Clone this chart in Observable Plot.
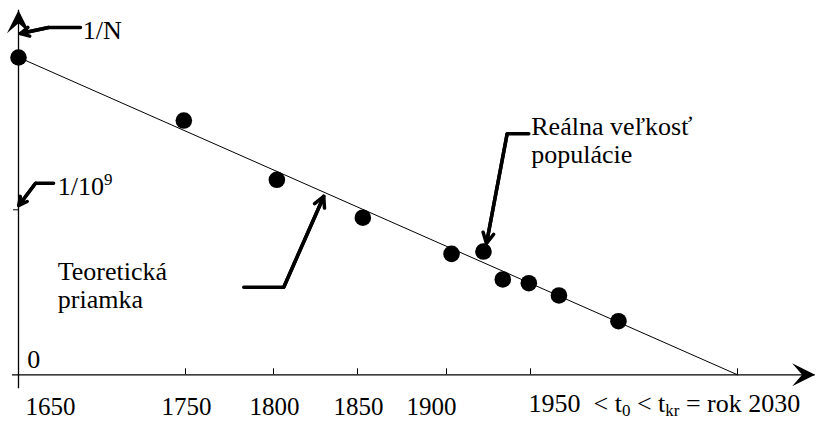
<!DOCTYPE html>
<html><head><meta charset="utf-8">
<script src="https://cdn.jsdelivr.net/npm/d3@7"></script>
<script src="https://cdn.jsdelivr.net/npm/@observablehq/plot@0.6"></script>
<style>body{margin:0;background:#fff} svg text{font-family:"Liberation Serif","Times New Roman",Tinos,"DejaVu Serif",serif !important}</style>
</head><body><div id="chart"></div>
<script>
// Observed population: year and 1/N (in units of 1/10^9)
const years  = [1650, 1749, 1802, 1853, 1903, 1922, 1933.5, 1949, 1961, 1984];
const invPop = [1.923, 1.541, 1.182, 0.952, 0.733, 0.747, 0.578, 0.555, 0.481, 0.325];
// Theoretical straight line (teoretická priamka)
const lineYears = [1650, 2030];
const lineVals  = [1.924, 0];
// Axis ticks and labels
const tickYears = [1750, 1800, 1850, 1900, 1950, 2030];
const tickLabelYears = [1650, 1750, 1800, 1850, 1900, 1950];
const tickLabelText  = ["1650", "1750", "1800", "1850", "1900", "1950\u00a0 < t0 < tkr = rok 2030"];
const yTickVals = [1];
const xAxisEnd = 2060, yAxisEnd = 2.21;
// Annotation labels (year, value)
const labelText = ["1/N", "1/10^9", "0", "Teoretická\npriamka", "Reálna veľkosť\npopulácie"];
const labelX = [1688.5, 1673.5, 1655.2, 1673.5, 1950.3];
const labelY = [2.152, 1.209, 0.158, 0.694, 1.572];
// Callout arrows: horizontal start, corner, tip (year, value)
const calloutX = [[1687.1, 1668.0, 1651.2], [1671.0, 1660.2, 1650.2], [1783.1, 1806.1, 1829.9], [1949.0, 1936.1, 1923.8]];
const calloutY = [[2.105, 2.105, 2.068], [1.161, 1.161, 1.026], [0.531, 0.531, 1.081], [1.461, 1.461, 0.796]];

const pts = years.map((x, i) => ({x, y: invPop[i]}));
const line = lineYears.map((x, i) => ({x, y: lineVals[i]}));
const callouts = calloutX.flatMap((xs, k) => xs.map((x, j) => ({k, x, y: calloutY[k][j]})));
const calloutArrows = calloutX.map((xs, k) => ({x1: xs[1], y1: calloutY[k][1], x2: xs[2], y2: calloutY[k][2]}));
const labels = labelText.map((t, i) => ({t, x: labelX[i], y: labelY[i]}));
const tickLbls = tickLabelYears.map((x, i) => ({x, t: tickLabelText[i]}));

const arrowUp = {draw(c) { c.moveTo(0, 0); c.lineTo(11.5, 23); c.lineTo(0, 13); c.lineTo(-11.5, 23); c.closePath(); }};
const arrowRight = {draw(c) { c.moveTo(0, 0); c.lineTo(-23, 11.5); c.lineTo(-13, 0); c.lineTo(-23, -11.5); c.closePath(); }};

const FONT = "Liberation Serif, Times New Roman, DejaVu Serif, serif";
const FS = 26;
const TFS = 25;
const txt = {fontFamily: FONT, fill: "black"};
const chart = Plot.plot({
  width: 816, height: 421, margin: 0,
  x: {type: "linear", domain: [1650, 1750, 1800, 1850, 1900, 1950, 2030], range: [18, 185, 273, 357, 446, 530, 737], axis: null},
  y: {type: "linear", domain: [0, 1], range: [374.3, 209.3], axis: null},
  style: {fontFamily: FONT, background: "white", overflow: "visible", color: "black"},
  marks: [
    Plot.ruleY([0], {x1: 1650, x2: xAxisEnd, insetLeft: -6, strokeWidth: 1.3}),
    Plot.ruleX([1650], {y1: yAxisEnd, y2: 0, insetBottom: -14, strokeWidth: 1.3}),
    Plot.ruleX(tickYears, {x: d => d, y1: 0, y2: 0, insetTop: -6, strokeWidth: 1}),
    Plot.ruleY(yTickVals, {y: d => d, x1: 1650, x2: 1650, insetLeft: -5, strokeWidth: 1}),
    Plot.dot([{x: xAxisEnd, y: 0}], {x: "x", y: "y", symbol: arrowRight, fill: "black", stroke: "none"}),
    Plot.dot([{x: 1650, y: yAxisEnd}], {x: "x", y: "y", symbol: arrowUp, fill: "black", stroke: "none"}),
    Plot.line(line, {x: "x", y: "y", stroke: "black", strokeWidth: 1}),
    Plot.dot(pts, {x: "x", y: "y", r: 8.3, fill: "black", stroke: "none"}),
    Plot.line(callouts, {x: "x", y: "y", z: "k", stroke: "black", strokeWidth: 3.5, strokeLinejoin: "miter"}),
    Plot.arrow(calloutArrows, {x1: "x1", y1: "y1", x2: "x2", y2: "y2", stroke: "black", strokeWidth: 3.5, headLength: 5, headAngle: 55}),
    Plot.text(labels, {x: "x", y: "y", text: "t", textAnchor: "start", lineAnchor: "top", lineHeight: 1.07, fontSize: FS, ...txt}),
    Plot.text(tickLbls.slice(0, 1), {x: "x", y: 0, text: "t", textAnchor: "start", lineAnchor: "top", dx: 7, dy: 22, fontSize: TFS, ...txt}),
    Plot.text(tickLbls.slice(1, 4), {x: "x", y: 0, text: "t", textAnchor: "middle", lineAnchor: "top", dx: 1, dy: 22, fontSize: TFS, ...txt}),
    Plot.text(tickLbls.slice(4, 5), {x: "x", y: 0, text: "t", textAnchor: "middle", lineAnchor: "top", dx: -15, dy: 22, fontSize: TFS, ...txt}),
    Plot.text(tickLbls.slice(5), {x: "x", y: 0, text: "t", textAnchor: "start", lineAnchor: "top", dx: -2, dy: 19, fontSize: FS, ...txt})
  ]
});

// Superscript / subscript styling via tspans
const NS = "http://www.w3.org/2000/svg";
chart.querySelectorAll("text").forEach(t => {
  const s = t.textContent;
  if (s === "1/10^9") {
    t.textContent = "1/10";
    const sp = document.createElementNS(NS, "tspan");
    sp.setAttribute("dy", "-10"); sp.setAttribute("font-size", "17"); sp.textContent = "9";
    t.appendChild(sp);
  } else if (s === tickLabelText[5]) {
    t.textContent = "";
    const parts = [["1950\u00a0 < t", 0, null], ["0", 4, 17], [" < t", -4, null], ["kr", 4, 17], [" = rok 2030", -4, null]];
    for (const [str, dy, fs] of parts) {
      const sp = document.createElementNS(NS, "tspan");
      sp.textContent = str;
      if (dy) sp.setAttribute("dy", dy);
      if (fs) sp.setAttribute("font-size", fs);
      t.appendChild(sp);
    }
  }
});
document.getElementById("chart").appendChild(chart);
</script>
</body></html>
